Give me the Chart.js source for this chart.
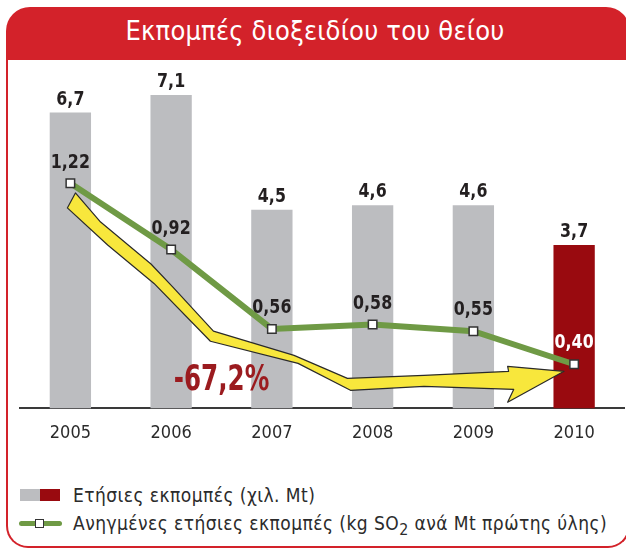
<!DOCTYPE html>
<html>
<head>
<meta charset="utf-8">
<script src="https://cdn.jsdelivr.net/npm/chart.js@4.4.1/dist/chart.umd.min.js"></script>
<style>
  html, body { margin: 0; padding: 0; background: #fff; }
  body { width: 626px; height: 549px; position: relative; overflow: hidden; font-family: "DejaVu Sans Condensed", "DejaVu Sans", sans-serif; }
  #head { position: absolute; left: 6px; top: 7px; width: 624px; height: 53px; background: #d3222a; border-radius: 24px 24px 0 0; }
  #title { position: absolute; left: 0; right: 6px; top: 2px; height: 44px; line-height: 44px; text-align: center; color: #fff; font-size: 27px; letter-spacing: 0.2px; }
  #panel { position: absolute; left: 6px; top: 60px; width: 620px; height: 486px; border: 2px solid #d3222a; border-top: none; border-radius: 0 0 22px 22px; }
  #wrap { position: absolute; left: 0; top: 0; width: 632px; height: 460px; }
  .row { position: absolute; left: 0; height: 22px; line-height: 22px; font-size: 19px; letter-spacing: 0.45px; color: #2b2b2b; white-space: nowrap; }
  .row .txt { position: absolute; left: 73px; top: 0; }
  .sw { position: absolute; top: 5px; width: 20px; height: 12px; }
  .ln { position: absolute; left: 19px; top: 9px; width: 43px; height: 5px; border-radius: 3px; }
  .mk { position: absolute; left: 35px; top: 7px; width: 7px; height: 7px; background: #fff; border: 1.5px solid #333; }
</style>
</head>
<body>
<div id="head"><div id="title">Εκπομπές διοξειδίου του θείου</div></div>
<div id="panel"></div>
<div id="wrap"><canvas id="chart"></canvas></div>
<div id="legend"></div>
<script>
const years = ['2005', '2006', '2007', '2008', '2009', '2010'];
const annualEmissions = [6.7, 7.1, 4.5, 4.6, 4.6, 3.7];       // χιλ. Mt
const specificEmissions = [1.22, 0.92, 0.56, 0.58, 0.55, 0.40]; // kg SO2 / Mt
const annualLabel = 'Ετήσιες εκπομπές (χιλ. Mt)';
const specificLabel = 'Ανηγμένες ετήσιες εκπομπές (kg SO<sub>2</sub> ανά Mt πρώτης ύλης)';

// yellow trend arrow outline, as [category index, bar-axis value]
const arrowOutline = [
  [0.05, 4.88], [0.30, 4.22], [0.80, 3.27], [1.02, 2.74], [1.42, 1.75],
  [2.22, 1.20], [2.75, 0.68], [3.51, 0.75], [4.35, 0.84], [4.34, 0.95],
  [4.90, 0.84], [4.34, 0.14], [4.40, 0.43], [3.51, 0.50], [2.78, 0.41],
  [2.26, 1.02], [1.39, 1.52], [0.83, 2.83], [0.37, 3.70], [-0.03, 4.54]
];
const changeAt = [1.5, 0.63];

const grey = '#bcbdc0';
const darkRed = '#990a0f';
const green = '#6f9a45';
const highlight = years.length - 1;

const first = specificEmissions[0], last = specificEmissions[specificEmissions.length - 1];
const changeText = ((last - first) / first * 100).toFixed(1).replace('.', ',') + '%';

const fmt = (v, d) => v.toFixed(d).replace('.', ',');
const numFont = '"DejaVu Sans Condensed", "DejaVu Sans", sans-serif';

const arrowPlugin = {
  id: 'arrow',
  afterDatasetDraw(chart, args) {
    if (args.index !== 1) return;
    const {ctx, scales: {x, y}} = chart;
    ctx.save();
    ctx.beginPath();
    arrowOutline.forEach(([i, v], k) => {
      const px = x.getPixelForValue(i), py = y.getPixelForValue(v);
      k ? ctx.lineTo(px, py) : ctx.moveTo(px, py);
    });
    ctx.closePath();
    ctx.fillStyle = '#f8e73c';
    ctx.fill();
    ctx.lineWidth = 1.2;
    ctx.strokeStyle = '#2a2a2a';
    ctx.lineJoin = 'round';
    ctx.stroke();
    ctx.restore();
  }
};

// condensed text: squeeze horizontally like the original narrow typeface
function narrowText(ctx, text, x, y, sx) {
  ctx.save();
  ctx.translate(x, y);
  ctx.scale(sx, 1);
  ctx.fillText(text, 0, 0);
  ctx.restore();
}

const labelPlugin = {
  id: 'valueLabels',
  afterDatasetsDraw(chart) {
    const {ctx, scales: {x, y}} = chart;
    ctx.save();
    ctx.textAlign = 'center';
    ctx.textBaseline = 'middle';
    ctx.font = 'bold 20px ' + numFont;
    chart.getDatasetMeta(1).data.forEach((bar, i) => {
      ctx.fillStyle = '#231f20';
      narrowText(ctx, fmt(annualEmissions[i], 1), bar.x, bar.y - 13, 0.88);
    });
    chart.getDatasetMeta(0).data.forEach((pt, i) => {
      ctx.fillStyle = i === highlight ? '#ffffff' : '#231f20';
      narrowText(ctx, fmt(specificEmissions[i], 2), pt.x, pt.y - 21, 0.88);
    });
    ctx.font = 'bold 36px ' + numFont;
    ctx.fillStyle = '#9b1b1f';
    narrowText(ctx, changeText, x.getPixelForValue(changeAt[0]), y.getPixelForValue(changeAt[1]), 0.76);
    ctx.restore();
  }
};

new Chart(document.getElementById('chart'), {
  type: 'bar',
  data: {
    labels: years,
    datasets: [
      {
        type: 'line',
        label: 'specific',
        data: specificEmissions,
        yAxisID: 'y1',
        borderColor: green,
        borderWidth: 6,
        tension: 0,
        pointStyle: 'rect',
        pointRadius: 6,
        pointBackgroundColor: '#ffffff',
        pointBorderColor: '#333333',
        pointBorderWidth: 1.5
      },
      {
        type: 'bar',
        label: 'annual',
        data: annualEmissions,
        yAxisID: 'y',
        backgroundColor: years.map((_, i) => i === highlight ? darkRed : grey),
        categoryPercentage: 1,
        barPercentage: 0.41
      }
    ]
  },
  options: {
    responsive: true,
    maintainAspectRatio: false,
    animation: false,
    layout: { padding: { left: 20, right: 6, top: 60, bottom: 2 } },
    plugins: { legend: { display: false }, tooltip: { enabled: false } },
    scales: {
      x: {
        grid: { display: true, color: 'transparent', drawTicks: false },
        border: { display: true, color: '#3a3a3a', width: 2 },
        ticks: { color: '#2b2b2b', padding: 14, font: { family: numFont, size: 18 } }
      },
      y: { display: false, min: 0, max: 7.89 },
      y1: { display: false, min: 0.2, max: 1.779 }
    }
  },
  plugins: [arrowPlugin, labelPlugin]
});

// legend
const legend = document.getElementById('legend');
legend.innerHTML =
  '<div class="row" style="top:484px;width:626px">' +
    '<span class="sw" style="left:20px;background:' + grey + '"></span>' +
    '<span class="sw" style="left:40px;background:' + darkRed + '"></span>' +
    '<span class="txt">' + annualLabel + '</span></div>' +
  '<div class="row" style="top:512px;width:626px">' +
    '<span class="ln" style="background:' + green + '"></span><span class="mk"></span>' +
    '<span class="txt">' + specificLabel + '</span></div>';
</script>
</body>
</html>
